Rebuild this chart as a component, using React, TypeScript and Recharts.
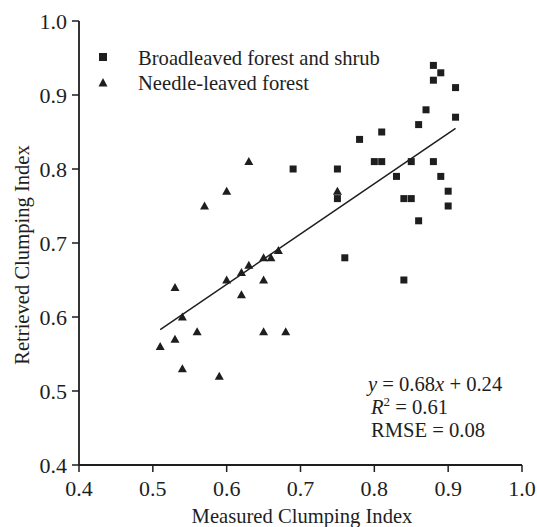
import React from 'react';
import { ScatterChart, Scatter, XAxis, YAxis, ReferenceLine, Customized } from 'recharts';

const broadleavedMeasured = [0.88, 0.89, 0.88, 0.91, 0.87, 0.91, 0.86, 0.81, 0.78, 0.80, 0.81, 0.85, 0.88, 0.69, 0.75, 0.83, 0.89, 0.90, 0.75, 0.84, 0.85, 0.90, 0.86, 0.76, 0.84];
const broadleavedRetrieved = [0.94, 0.93, 0.92, 0.91, 0.88, 0.87, 0.86, 0.85, 0.84, 0.81, 0.81, 0.81, 0.81, 0.80, 0.80, 0.79, 0.79, 0.77, 0.76, 0.76, 0.76, 0.75, 0.73, 0.68, 0.65];

const needleMeasured = [0.51, 0.53, 0.53, 0.54, 0.54, 0.56, 0.57, 0.59, 0.60, 0.60, 0.62, 0.62, 0.63, 0.63, 0.65, 0.65, 0.65, 0.66, 0.67, 0.68, 0.75];
const needleRetrieved = [0.56, 0.57, 0.64, 0.60, 0.53, 0.58, 0.75, 0.52, 0.65, 0.77, 0.63, 0.66, 0.67, 0.81, 0.68, 0.65, 0.58, 0.68, 0.69, 0.58, 0.77];

const axisTicks = [0.4, 0.5, 0.6, 0.7, 0.8, 0.9, 1.0];
const fitStart = { x: 0.51, y: 0.583 };
const fitEnd = { x: 0.91, y: 0.855 };

const legendLabels = ['Broadleaved forest and shrub', 'Needle-leaved forest'];
const xTitle = 'Measured Clumping Index';
const yTitle = 'Retrieved Clumping Index';
const statR2 = '0.61';
const statRMSE = '0.08';
const statSlope = '0.68';
const statIntercept = '0.24';

const broadData = broadleavedMeasured.map((x, i) => ({ x, y: broadleavedRetrieved[i] }));
const needleData = needleMeasured.map((x, i) => ({ x, y: needleRetrieved[i] }));

const INK = '#1e1e1e';
const FONT = '"Liberation Serif", "Times New Roman", serif';

const Square = (props: any) => {
  const { cx, cy } = props;
  if (cx == null || cy == null) return <g />;
  return <rect x={cx - 3.5} y={cy - 3.5} width={7} height={7} fill={INK} />;
};

const Triangle = (props: any) => {
  const { cx, cy } = props;
  if (cx == null || cy == null) return <g />;
  return <polygon points={`${cx},${cy - 4.5} ${cx - 4.5},${cy + 3.5} ${cx + 4.5},${cy + 3.5}`} fill={INK} />;
};

const Overlay = () => (
  <g style={{ fontFamily: FONT }} fill={INK}>
    <rect x={99} y={53} width={8} height={8} fill={INK} />
    <polygon points="103,78 98.5,86.5 107.5,86.5" fill={INK} />
    <text x={138} y={65} fontSize={20.6} fill={INK}>{legendLabels[0]}</text>
    <text x={138} y={90} fontSize={20.6} fill={INK}>{legendLabels[1]}</text>
    <text x={368} y={391} fontSize={20.6} fill={INK}>
      <tspan fontStyle="italic">y</tspan>
      <tspan>{` = ${statSlope}`}</tspan>
      <tspan fontStyle="italic">x</tspan>
      <tspan>{` + ${statIntercept}`}</tspan>
    </text>
    <text x={371} y={414} fontSize={20.6} fill={INK}>
      <tspan fontStyle="italic">R</tspan>
      <tspan fontSize={13} dy={-8}>2</tspan>
      <tspan dy={8}>{` = ${statR2}`}</tspan>
    </text>
    <text x={371} y={437} fontSize={20.6} fill={INK}>{`RMSE = ${statRMSE}`}</text>
    <text x={302} y={523} fontSize={20.6} textAnchor="middle" fill={INK}>{xTitle}</text>
    <text x={29} y={255} fontSize={20.6} textAnchor="middle" fill={INK} transform="rotate(-90, 29, 255)">{yTitle}</text>
  </g>
);

export default function App() {
  const tickStyle = { fontSize: 22, fill: INK, fontFamily: FONT };
  const fmt = (v: number) => v.toFixed(1);
  return (
    <div style={{ position: 'absolute', left: 0, top: 0, background: '#fff' }}>
      <ScatterChart width={537} height={527} margin={{ top: 21, right: 15, bottom: 0, left: 0 }} style={{ fontFamily: FONT }}>
        <XAxis
          xAxisId="b"
          type="number"
          dataKey="x"
          domain={[0.4, 1.0]}
          ticks={axisTicks}
          tickFormatter={fmt}
          height={62}
          tick={tickStyle}
          tickSize={7}
          tickMargin={8}
          axisLine={{ stroke: INK, strokeWidth: 1.8 }}
          tickLine={{ stroke: INK, strokeWidth: 1.5 }}
          allowDataOverflow
        />
        <XAxis
          xAxisId="t"
          orientation="top"
          type="number"
          dataKey="x"
          domain={[0.4, 1.0]}
          height={0}
          tick={false}
          tickLine={false}
          axisLine={{ stroke: INK, strokeWidth: 1.8 }}
        />
        <YAxis
          yAxisId="l"
          type="number"
          dataKey="y"
          domain={[0.4, 1.0]}
          ticks={axisTicks}
          tickFormatter={fmt}
          width={79}
          tick={tickStyle}
          tickSize={7}
          tickMargin={5}
          axisLine={{ stroke: INK, strokeWidth: 1.8 }}
          tickLine={{ stroke: INK, strokeWidth: 1.5 }}
          allowDataOverflow
        />
        <YAxis
          yAxisId="r"
          orientation="right"
          type="number"
          dataKey="y"
          domain={[0.4, 1.0]}
          width={0}
          tick={false}
          tickLine={false}
          axisLine={{ stroke: INK, strokeWidth: 1.8 }}
        />
        <ReferenceLine
          xAxisId="b"
          yAxisId="l"
          segment={[fitStart, fitEnd]}
          stroke={INK}
          strokeWidth={1.5}
          ifOverflow="visible"
        />
        <Scatter xAxisId="b" yAxisId="l" data={broadData} shape={Square} isAnimationActive={false} />
        <Scatter xAxisId="b" yAxisId="l" data={needleData} shape={Triangle} isAnimationActive={false} />
        <Customized component={Overlay} />
      </ScatterChart>
    </div>
  );
}
